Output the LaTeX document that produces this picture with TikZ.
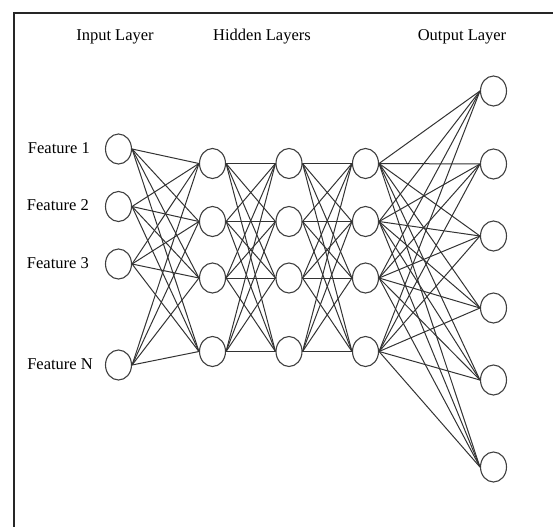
\documentclass[tikz,border=0pt]{standalone}
\usepackage{fontspec}
\setmainfont{Liberation Serif}
\usetikzlibrary{shapes.geometric}
\begin{document}
\begin{tikzpicture}[x=1pt,y=-1pt,
  neuron/.style={ellipse,draw=black!75,line width=1.1pt,fill=white,
    minimum width=26pt,minimum height=30pt,inner sep=0pt},
  link/.style={draw=black!80,line width=1pt},
  title/.style={font=\fontsize{16.5}{19}\selectfont,anchor=base,inner sep=0pt},
  feat/.style={font=\fontsize{16.5}{19}\selectfont,anchor=east,inner sep=0pt},
  frameline/.style={draw=black!85,line width=1.6pt}]
\useasboundingbox (0,0) rectangle (553,527);

% open frame: top and left edges only
\coordinate (ftl) at (14,13);
\coordinate (ftr) at (553,13);
\coordinate (fbl) at (14,527);
\draw[frameline] (ftr) -- (ftl) -- (fbl);

% layer titles
\node[title] (tin)  at (115,41) {Input Layer};
\node[title] (thid) at (262,41) {Hidden Layers};
\node[title] (tout) at (462,41) {Output Layer};

% input layer
\foreach \y [count=\i] in {149,206.5,264,365}
  \node[neuron] (i\i) at (118.5,\y) {};
\node[feat] (f1) at (90,148) {Feature 1};
\node[feat] (f2) at (89,205.5) {Feature 2};
\node[feat] (f3) at (89,263) {Feature 3};
\node[feat] (f4) at (93,364) {Feature N};

% hidden layers
\foreach \x [count=\l] in {212.5,289,365.5}
  \foreach \y [count=\i] in {163.5,221.5,278,351.5}
    \node[neuron] (h\l\i) at (\x,\y) {};

% output layer
\foreach \y [count=\i] in {91,164,236,308,380,467}
  \node[neuron] (o\i) at (493.5,\y) {};

% fully connected links between consecutive layers
\foreach \a in {1,...,4}
  \foreach \b in {1,...,4}
    \draw[link] (i\a.east) -- (h1\b.west);
\foreach \a in {1,...,4}
  \foreach \b in {1,...,4}{
    \draw[link] (h1\a.east) -- (h2\b.west);
    \draw[link] (h2\a.east) -- (h3\b.west);
  }
\foreach \a in {1,...,4}
  \foreach \b in {1,...,6}
    \draw[link] (h3\a.east) -- (o\b.west);
\end{tikzpicture}
\end{document}
